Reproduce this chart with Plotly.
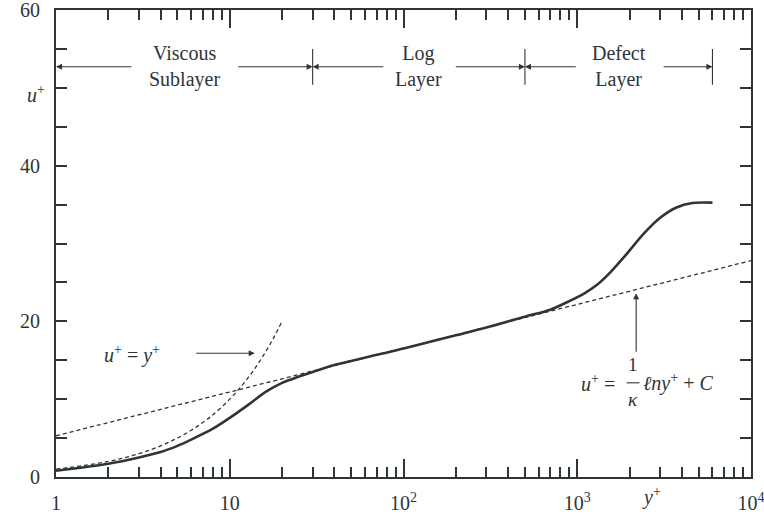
import math
import plotly.graph_objects as go

# ---------------- data ----------------
yplus = [1, 2, 3, 4, 5, 6, 8, 10, 13, 16, 20, 25, 30, 40, 50, 70, 100, 150, 200,
         300, 500, 700, 900, 1100, 1300, 1550, 1900, 2400, 3000, 3700, 4600, 6000]
uplus = [0.8, 1.7, 2.5, 3.2, 4.0, 4.8, 6.2, 7.6, 9.4, 10.9, 12.1, 12.9, 13.5, 14.4, 14.9,
         15.7, 16.5, 17.5, 18.2, 19.2, 20.6, 21.5, 22.6, 23.6, 24.7, 26.3, 28.5, 31.2,
         33.3, 34.6, 35.2, 35.25]

visc_y = [1, 2, 3, 4, 5, 6, 7, 8, 10, 12, 14, 16, 18, 20]
visc_u = [1, 2, 3, 4, 5, 6, 7, 8, 10, 12, 14, 16, 18, 20]

loglaw_y = [1, 10000]
loglaw_u = [5.3, 27.8]

layer_edges = [1, 30, 500, 6000]
layer_names = ["Viscous<br>Sublayer", "Log<br>Layer", "Defect<br>Layer"]
layer_tail_left = [2.77, 78, 1000]
layer_tail_right = [10.97, 196, 3080]

x_tickvals = [1, 10, 100, 1000, 10000]
x_ticktext = ["1", "10", "10<sup>2</sup>", "10<sup>3</sup>", "10<sup>4</sup>"]
y_tickvals = [0, 20, 40, 60]
y_ticktext = ["0", "20", "40", "60"]

# ---------------- style ----------------
INK = "#2e3538"
FONT = "Liberation Serif"
FS = 20
L = math.log10

fig = go.Figure()
fig.add_trace(go.Scatter(x=loglaw_y, y=loglaw_u, mode="lines",
                         line=dict(color=INK, width=1.3, dash="4px,3px"), hoverinfo="skip"))
fig.add_trace(go.Scatter(x=visc_y, y=visc_u, mode="lines",
                         line=dict(color=INK, width=1.3, dash="4px,3px", shape="spline"),
                         hoverinfo="skip"))
fig.add_trace(go.Scatter(x=yplus, y=uplus, mode="lines",
                         line=dict(color=INK, width=2.6, shape="spline", smoothing=0.8),
                         hoverinfo="skip"))

minor_x = [m * 10 ** d for d in range(4) for m in range(2, 10)]
minor_y = [v for v in range(5, 60, 5) if v % 20]

fig.update_xaxes(type="log", range=[0, 4], showline=True, linecolor=INK, linewidth=2,
                 mirror="ticks", ticks="inside", ticklen=18, tickwidth=1.5, tickcolor=INK,
                 tickmode="array", tickvals=x_tickvals, ticktext=x_ticktext,
                 showgrid=False, zeroline=False, ticklabelstandoff=7,
                 automargin=False, ticklabeloverflow="allow",
                 minor=dict(tickmode="array", tickvals=minor_x, ticks="inside",
                            ticklen=10, tickwidth=1.5, tickcolor=INK, showgrid=False),
                 tickfont=dict(family=FONT, size=FS, color=INK))
fig.update_yaxes(range=[0, 60], showline=True, linecolor=INK, linewidth=2,
                 mirror="ticks", ticks="inside", ticklen=11, tickwidth=1.5, tickcolor=INK,
                 tickmode="array", tickvals=y_tickvals, ticktext=y_ticktext,
                 showgrid=False, zeroline=False, ticklabelstandoff=10,
                 automargin=False, ticklabeloverflow="allow",
                 minor=dict(tickmode="array", tickvals=minor_y, ticks="inside",
                            ticklen=11, tickwidth=1.5, tickcolor=INK, showgrid=False),
                 tickfont=dict(family=FONT, size=FS, color=INK))

ann = []
shapes = []
arrow_u = 52.7
for i, name in enumerate(layer_names):
    lo, hi = layer_edges[i], layer_edges[i + 1]
    ann.append(dict(x=(L(lo) + L(hi)) / 2, y=arrow_u, xref="x", yref="y", text=name,
                    showarrow=False, font=dict(family=FONT, size=FS, color=INK),
                    align="center"))
    ann.append(dict(x=L(lo), y=arrow_u, ax=L(layer_tail_left[i]), ay=arrow_u,
                    xref="x", yref="y", axref="x", ayref="y", text="", showarrow=True,
                    arrowhead=2, arrowsize=1.1, arrowwidth=1.1, arrowcolor=INK, standoff=0))
    ann.append(dict(x=L(hi), y=arrow_u, ax=L(layer_tail_right[i]), ay=arrow_u,
                    xref="x", yref="y", axref="x", ayref="y", text="", showarrow=True,
                    arrowhead=2, arrowsize=1.1, arrowwidth=1.1, arrowcolor=INK, standoff=0))
for e in layer_edges[1:]:
    shapes.append(dict(type="line", xref="x", yref="y", x0=e, x1=e, y0=50.4, y1=55.0,
                       line=dict(color=INK, width=1.1)))

# u+ = y+ label and arrow
ann.append(dict(x=0.437, y=15.7, xref="x", yref="y", showarrow=False,
                text="<i>u</i><sup>+</sup> = <i>y</i><sup>+</sup>",
                font=dict(family=FONT, size=FS, color=INK)))
ann.append(dict(x=1.144, y=15.9, ax=0.799, ay=15.9, xref="x", yref="y", axref="x",
                ayref="y", text="", showarrow=True, arrowhead=2, arrowsize=1.1,
                arrowwidth=1.1, arrowcolor=INK, standoff=0))

# log-law label
ann.append(dict(x=3.339, y=23.6, ax=3.339, ay=15.9, xref="x", yref="y", axref="x",
                ayref="y", text="", showarrow=True, arrowhead=2, arrowsize=1.1,
                arrowwidth=1.1, arrowcolor=INK, standoff=0))
ann.append(dict(x=3.226, y=12.1, xref="x", yref="y", xanchor="right", showarrow=False,
                text="<i>u</i><sup>+</sup> =", font=dict(family=FONT, size=FS, color=INK)))
ann.append(dict(x=3.322, y=14.4, xref="x", yref="y", showarrow=False, text="1",
                font=dict(family=FONT, size=FS - 1, color=INK)))
ann.append(dict(x=3.322, y=10.0, xref="x", yref="y", showarrow=False, text="<i>κ</i>",
                font=dict(family=FONT, size=FS - 1, color=INK)))
shapes.append(dict(type="line", xref="x", yref="y", x0=10 ** 3.284, x1=10 ** 3.358,
                   y0=12.1, y1=12.1, line=dict(color=INK, width=1.1)))
ann.append(dict(x=3.366, y=12.1, xref="x", yref="y", xanchor="left", showarrow=False,
                text="<i>ℓny</i><sup>+</sup> + <i>C</i>",
                font=dict(family=FONT, size=FS, color=INK)))

# axis titles
ann.append(dict(x=-0.045, y=0.85, xref="paper", yref="paper", showarrow=False,
                text="<i>u</i><sup>+</sup>", font=dict(family=FONT, size=FS, color=INK)))
ann.append(dict(x=0.873, y=-0.072, xref="paper", yref="paper", showarrow=False,
                text="<i>y</i><sup>+</sup>", font=dict(family=FONT, size=FS, color=INK)))

fig.update_layout(width=764, height=517, margin=dict(l=56, r=13, t=10, b=40),
                  paper_bgcolor="white", plot_bgcolor="white", showlegend=False,
                  annotations=ann, shapes=shapes)

fig.write_html("out.html", config={"displayModeBar": False},
               post_script="document.body.style.margin='0';"
                           "document.body.style.overflow='hidden';")
